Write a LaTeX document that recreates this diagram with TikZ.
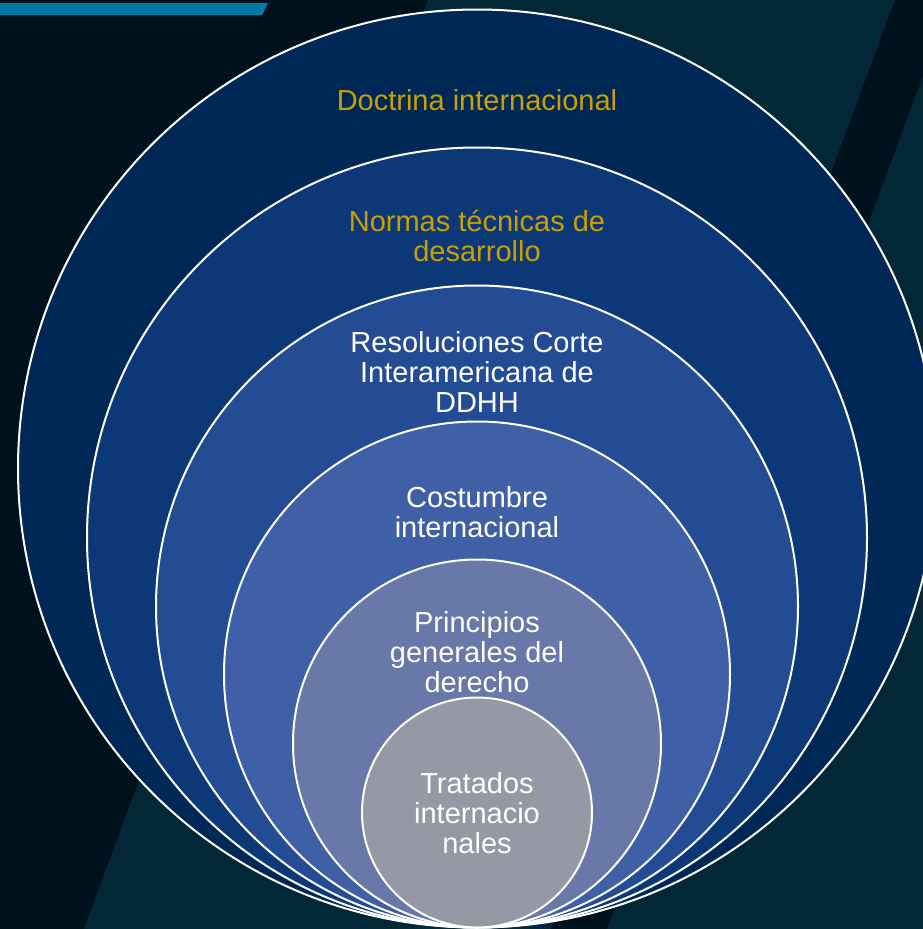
\documentclass[tikz,border=0pt]{standalone}
\usepackage{fontspec}
\setmainfont{Liberation Sans}
\definecolor{bgdark}{HTML}{00111E}
\definecolor{bgteal}{HTML}{022838}
\definecolor{barblue}{HTML}{007AA3}
\definecolor{cA}{HTML}{002857}
\definecolor{cB}{HTML}{0D3878}
\definecolor{cC}{HTML}{234C94}
\definecolor{cD}{HTML}{3F5FA6}
\definecolor{cE}{HTML}{6878A8}
\definecolor{cF}{HTML}{9599A5}
\definecolor{gold}{HTML}{C8A000}
\newcommand{\topstrut}{\rule{0pt}{26pt}}
\begin{document}
\begin{tikzpicture}[x=1pt,y=-1pt,
  ring/.style={circle, draw=white, line width=2pt, inner sep=0pt},
  lbl/.style={align=center, anchor=north, inner sep=0pt, text=white,
    font=\fontsize{29}{30}\selectfont}]
\useasboundingbox (0,0) rectangle (923,929);
\clip (0,0) rectangle (923,929);
% background
\fill[bgdark] (0,0) rectangle (923,929);
\fill[bgteal] (428,0) -- (923,0) -- (923,929) -- (84,929) -- cycle;
\fill[bgdark] (895,0) -- (951,0) -- (607,929) -- (551,929) -- cycle;
\fill[barblue] (0,3) -- (268,3) -- (262,15) -- (0,15) -- cycle;
% rings
\node[ring, fill=cA, minimum size=918pt] (r1) at (477,468.5) {};
\node[ring, fill=cB, minimum size=780pt] (r2) at (477,537.5) {};
\node[ring, fill=cC, minimum size=642pt] (r3) at (477,606.5) {};
\node[ring, fill=cD, minimum size=506pt] (r4) at (477,674.5) {};
\node[ring, fill=cE, minimum size=368pt] (r5) at (477,743.5) {};
\node[ring, fill=cF, minimum size=230pt] (r6) at (477,812.5) {};
% labels
\node[lbl, text=gold] (t1) at (477,84) {\topstrut Doctrina internacional};
\node[lbl, text=gold] (t2) at (477,205) {\topstrut Normas técnicas de\\desarrollo};
\node[lbl] (t3) at (477,326) {\topstrut Resoluciones Corte\\Interamericana de\\DDHH};
\node[lbl] (t4) at (477,481) {\topstrut Costumbre\\internacional};
\node[lbl] (t5) at (477,606) {\topstrut Principios\\generales del\\derecho};
\node[lbl] (t6) at (477,767) {\topstrut Tratados\\internacio\\nales};
\end{tikzpicture}
\end{document}
